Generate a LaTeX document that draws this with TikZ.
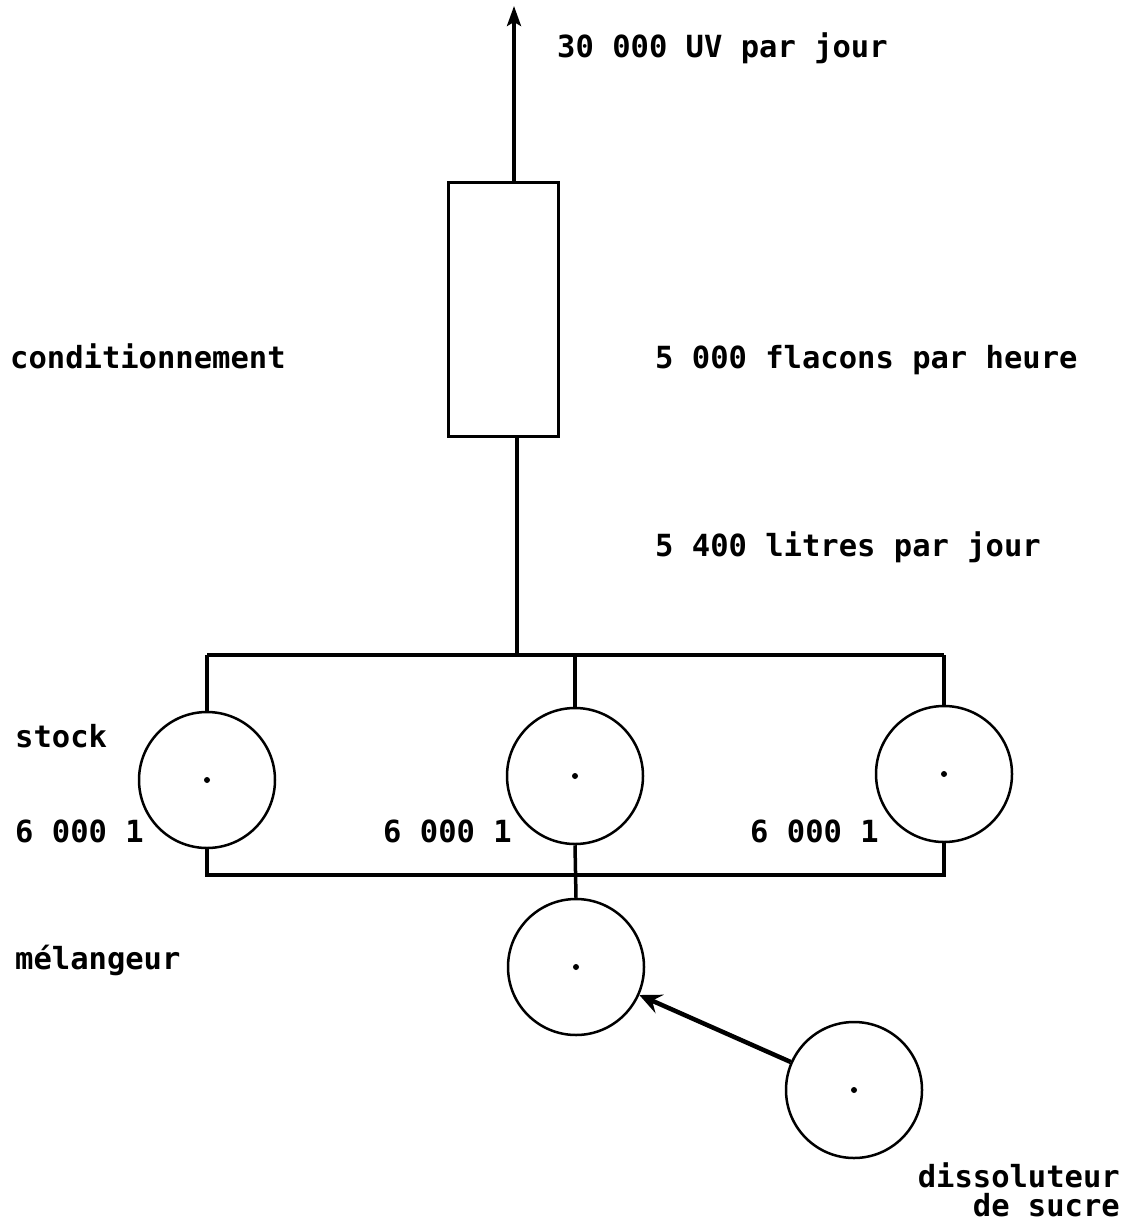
\documentclass[tikz,border=0pt]{standalone}
\usepackage{fontspec}
\setmonofont{DejaVu Sans Mono}
\usetikzlibrary{arrows.meta}
\begin{document}
\begin{tikzpicture}[x=1pt,y=-1pt,
  lbl/.style={font=\ttfamily\bfseries\fontsize{30.5}{36}\selectfont, inner sep=0pt, anchor=base west},
  lblr/.style={lbl, anchor=base east},
  pipe/.style={line width=3.5pt},
  tank/.style={circle, draw, line width=2.5pt, minimum size=136pt, inner sep=0pt},
  unit/.style={draw, line width=3pt, minimum width=110pt, minimum height=253pt, inner sep=0pt},
  hub/.style={circle, fill, inner sep=0pt, minimum size=6pt}
]
\useasboundingbox (0,0) rectangle (1136,1222);

% packaging unit
\node[unit] (cond) at (503,309.5) {};

% storage tanks, mixer and sugar dissolver
\node[tank] (s1) at (207,780) {};
\node[tank] (s2) at (575,776) {};
\node[tank] (s3) at (944,774) {};
\node[tank] (mix) at (576,967) {};
\node[tank] (diss) at (854,1090) {};
\foreach \t in {s1,s2,s3,mix,diss} \node[hub] at (\t) {};

% piping
\coordinate (out) at (514,6);
\coordinate (busT) at (517,655);
\coordinate (busB) at (575,875);
\draw[pipe, -{Stealth[length=20pt,width=14pt,inset=4pt]}] (cond.north -| out) -- (out);
\draw[pipe] (cond.south -| busT) -- (busT);
\draw[pipe] (s1.north |- busT) -- (s3.north |- busT);
\draw[pipe] (s1.north |- busT) -- (s1.north);
\draw[pipe] (s2.north |- busT) -- (s2.north);
\draw[pipe] (s3.north |- busT) -- (s3.north);
\draw[pipe] (s1.south) -- (s1.south |- busB) -- (s3.south |- busB) -- (s3.south);
\draw[pipe] (s2.south) -- (mix.north);
\draw[line width=4.5pt, -{Stealth[length=22pt,width=20pt,inset=8pt]}] (diss) -- (mix);

% labels
\node[lbl] (t1) at (557,58) {30 000 UV par jour};
\node[lbl] (t2) at (10,368) {conditionnement};
\node[lbl] (t3) at (655,368) {5 000 flacons par heure};
\node[lbl] (t4) at (655,556) {5 400 litres par jour};
\node[lbl] (t5) at (15,747) {stock};
\node[lbl] (t6) at (15,842) {6 000 1};
\node[lbl] (t7) at (383,842) {6 000 1};
\node[lbl] (t8) at (750,842) {6 000 1};
\node[lbl] (t9) at (15,969) {mélangeur};
\node[lblr] (t10) at (1120,1187) {dissoluteur};
\node[lblr] (t11) at (1120,1216) {de sucre};
\end{tikzpicture}
\end{document}
